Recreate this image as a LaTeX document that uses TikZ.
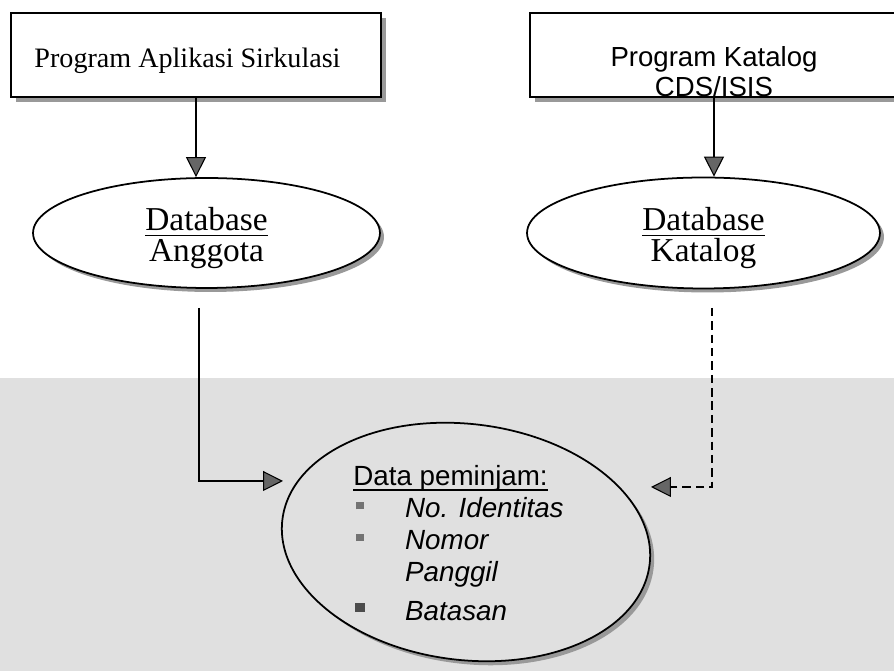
\documentclass[tikz,border=0pt]{standalone}
\usepackage{fontspec}
\setmainfont{Liberation Serif}
\setsansfont{Liberation Sans}
\usepackage{tikz}
\usetikzlibrary{arrows.meta,shapes.geometric,shadows}

% underline at a fixed depth: [depth]{thickness}{text}
\newcommand{\ulword}[3][3pt]{\setbox0\hbox{#3}\rlap{\rule[-#1]{\wd0}{#2}}\box0}
% small square bullet: [size]{colour}
\newcommand{\sqbul}[2][4.3pt]{\textcolor{#2}{\rule[4.8pt]{#1}{#1}}}

\begin{document}
\begin{tikzpicture}
[x=0.02cm, y=-0.02cm,
% STYLES
% The program style is used for the two application boxes
program/.style={rectangle, draw, line width=1pt, fill=white, inner sep=0pt, minimum width=7.4cm, minimum height=1.68cm, drop shadow={shadow xshift=0.1cm, shadow yshift=-0.1cm, fill=black!40, opacity=1}},
% The store style is used for the databases
store/.style={ellipse, draw, line width=1pt, fill=white, align=center, inner sep=0pt, font=\fontsize{19}{18.2}\selectfont, drop shadow={shadow xshift=0.08cm, shadow yshift=-0.08cm, fill=black!40, opacity=1}},
% The flow style is used for the connectors
flow/.style={-{Triangle[length=0.4cm, width=0.4cm, fill=black!60]}, line width=0.6pt},
weak/.style={dash pattern=on 4.8pt off 2.8pt}]

% paper
\fill[black!12] (0,378) rectangle (894,671);
\useasboundingbox (0,0) rectangle (894,671);

% Draw programs
\node [program, text height=18.3pt, text depth=3.5pt, font=\fontsize{16}{19}\selectfont] (sirkulasi) at (196,55) {Program Aplikasi Sirkulasi\hspace*{0.34cm}};
\node [program, minimum width=7.36cm, align=center, font=\sffamily\fontsize{15.7}{17}\selectfont] (katalog) at (714,55) {\rule{0pt}{30.5pt}Program Katalog\\CDS/ISIS};

% Draw databases
\node [store, minimum width=6.94cm, minimum height=2.2cm] (anggota) at (206.5,233) {\rule{0pt}{18.9pt}\ulword[3.4pt]{0.8pt}{Database}\\Anggota};
\node [store, minimum width=7.06cm, minimum height=2.22cm] (katalogdb) at (703.5,233) {\rule{0pt}{18.9pt}\ulword[3.4pt]{0.8pt}{Database}\\Katalog};

%%%%%%%%%%%%%%%
% borrower data
\node [ellipse, draw, line width=1pt, fill=black!12, rotate=-7, minimum width=7.4cm, minimum height=4.72cm, drop shadow={shadow xshift=0.08cm, shadow yshift=-0.08cm, fill=black!40, opacity=1}] (peminjam) at (466,542) {};
\node [anchor=north west, inner sep=0pt, font=\sffamily\fontsize{15.8}{18.2}\selectfont] (peminjamisi) at (353,463) {%
\begin{tabular}{@{}l@{}l@{}}
\multicolumn{2}{@{}l@{}}{\ulword[2.8pt]{0.7pt}{Data peminjam:}}\\
\makebox[29.5pt][l]{\hspace{1.5pt}\sqbul{black!55}} & \textit{No. Identitas}\\
\makebox[29.5pt][l]{\hspace{1.5pt}\sqbul{black!55}} & \textit{Nomor}\\
 & \textit{Panggil}\\[4pt]
\makebox[29.5pt][l]{\hspace{1pt}\sqbul[5.5pt]{black!70}} & \textit{Batasan}
\end{tabular}};
%%%%%%%%%%%%%%%

\coordinate (keluarA) at (199,308);
\coordinate (masukA) at (283,481);
\coordinate (keluarK) at (712,308);
\coordinate (masukK) at (651,487);

% Draw the links
\draw[flow] (sirkulasi.south) -- (sirkulasi.south |- anggota.north);
\draw[flow] (katalog.south) -- (katalog.south |- katalogdb.north);
\draw[flow] (keluarA) |- (masukA);
\draw[flow, weak] (keluarK) |- (masukK);

\end{tikzpicture}
\end{document}
